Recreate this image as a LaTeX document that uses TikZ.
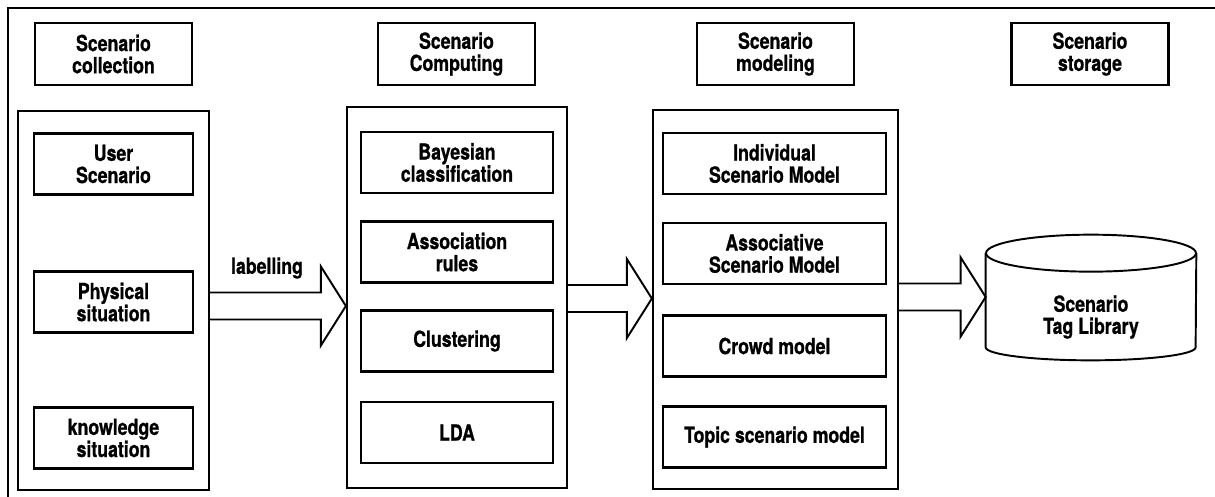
\documentclass[tikz,border=0pt]{standalone}
\usepackage{fontspec}
\setmainfont{TeX Gyre Heros}[FakeStretch=0.8, BoldFeatures={FakeBold=0.8}]
\usetikzlibrary{calc}
\tikzset{
  txt/.style={font=\bfseries\fontsize{12.6}{12.6}\selectfont, align=center},
  box/.style={draw, line width=1.3pt, rectangle, inner sep=0pt, txt},
  hdr/.style={box, minimum width=3.14cm, minimum height=1.24cm},
  grp/.style={draw, line width=1.3pt, rectangle, inner sep=0pt},
  arrowline/.style={draw, line width=1.1pt, line join=miter},
}
\newcommand{\blockarrow}[2]{%
  \draw[arrowline] let \p1=(#1), \p2=(#2) in
    (\x1,\y1+0.27cm) -- (\x2-0.5cm,\y1+0.27cm) -- (\x2-0.5cm,\y1+0.79cm) -- (\x2,\y1)
    -- (\x2-0.5cm,\y1-0.79cm) -- (\x2-0.5cm,\y1-0.27cm) -- (\x1,\y1-0.27cm);}
\begin{document}
\begin{tikzpicture}[x=0.02cm, y=-0.02cm]
\useasboundingbox (0,0) rectangle (1215,497);
% frame
\draw[line width=1.1pt] (8,497) -- (8,8) -- (1215,8);
% headers
\node[hdr] (h1) at (113.5,54) {Scenario\\collection};
\node[hdr] (h2) at (456.5,54) {Scenario\\Computing};
\node[hdr] (h3) at (775.5,54) {Scenario\\modeling};
\node[hdr] (h4) at (1090,54) {Scenario\\storage};
% containers
\node[grp, minimum width=3.82cm, minimum height=7.58cm] (colC) at (113.5,300.5) {};
\node[grp, minimum width=4.40cm, minimum height=7.62cm] (cmpC) at (457,297.5) {};
\node[grp, minimum width=4.90cm, minimum height=7.58cm] (modC) at (775.5,299.5) {};
% collection items
\tikzset{cb/.style={box, minimum width=3.18cm, minimum height=1.22cm}}
\node[cb] (c1) at (113.5,164) {User\\Scenario};
\node[cb] (c2) at (113.5,302) {Physical\\situation};
\node[cb] (c3) at (113.5,438) {knowledge\\situation};
% computing items
\tikzset{pb/.style={box, minimum width=3.84cm, minimum height=1.22cm}}
\node[pb] (p1) at (457,162.5) {Bayesian\\classification};
\node[pb] (p2) at (457,252) {Association\\rules};
\node[pb] (p3) at (457,341) {Clustering};
\node[pb] (p4) at (457,432.5) {LDA};
% modeling items
\tikzset{mb/.style={box, minimum width=4.46cm, minimum height=1.22cm}}
\node[mb] (m1) at (774.5,163.5) {Individual\\Scenario Model};
\node[mb] (m2) at (774.5,253.5) {Associative\\Scenario Model};
\node[mb] (m3) at (774.5,346) {Crowd model};
\node[mb] (m4) at (774.5,437) {Topic scenario model};
% cylinder
\node[inner sep=0pt, minimum width=4.2cm, minimum height=1.87cm] (cyl) at (1091,300.25) {};
\draw[line width=1.1pt] (cyl.north) ellipse [x radius=2.1cm, y radius=0.37cm];
\draw[line width=1.1pt] (cyl.north west) -- (cyl.south west)
   arc[start angle=180, end angle=360, x radius=2.1cm, y radius=0.26cm] -- (cyl.north east);
\node[txt] (cyltxt) at (1091,317) {Scenario\\Tag Library};
% arrows
\coordinate (a1) at ($(colC.east)+(0,5.5)$);
\blockarrow{a1}{a1 -| cmpC.west}
\node[txt] (lab) at (267,268) {labelling};
\coordinate (a2) at ($(cmpC.east)+(0,1)$);
\blockarrow{a2}{a2 -| modC.west}
\coordinate (a3) at ($(modC.east)+(0,-2.5)$);
\blockarrow{a3}{a3 -| cyl.west}
\end{tikzpicture}
\end{document}
